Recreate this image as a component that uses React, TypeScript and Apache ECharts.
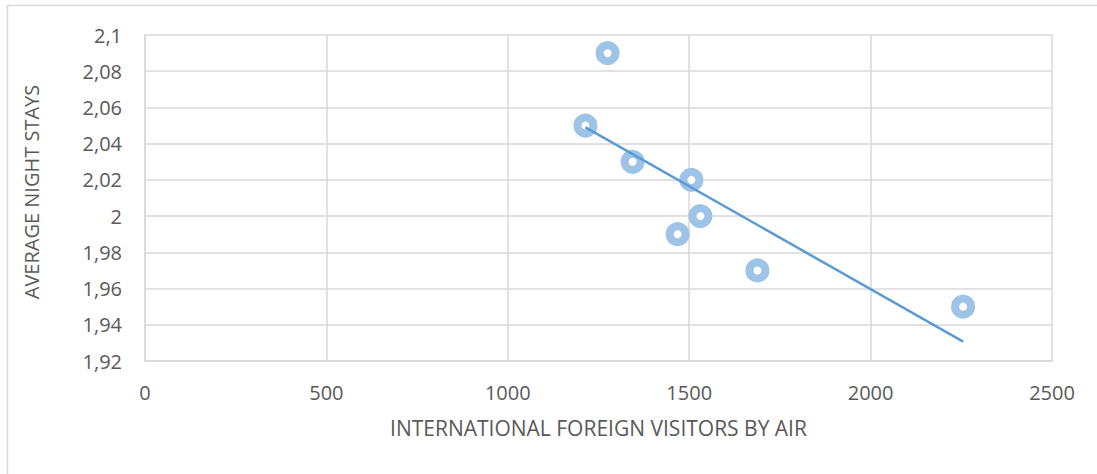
import React, { useEffect, useRef } from "react";
import * as echarts from "echarts";

const visitors = [1275, 1214, 1344, 1506, 1531, 1468, 1688, 2255];
const nightStays = [2.09, 2.05, 2.03, 2.02, 2.0, 1.99, 1.97, 1.95];
const xTitle = "INTERNATIONAL FOREIGN VISITORS BY AIR";
const yTitle = "AVERAGE NIGHT STAYS";

function regression(xs: number[], ys: number[]) {
  const n = xs.length;
  const mx = xs.reduce((a, b) => a + b, 0) / n;
  const my = ys.reduce((a, b) => a + b, 0) / n;
  let sxy = 0, sxx = 0;
  for (let i = 0; i < n; i++) {
    sxy += (xs[i] - mx) * (ys[i] - my);
    sxx += (xs[i] - mx) * (xs[i] - mx);
  }
  const slope = sxy / sxx;
  return (x: number) => my + slope * (x - mx);
}

export default function App() {
  const ref = useRef<HTMLDivElement>(null);
  useEffect(() => {
    document.body.style.margin = "0";
    const chart = echarts.init(ref.current!, null, { renderer: "svg" });
    const f = regression(visitors, nightStays);
    const xmin = Math.min(...visitors);
    const xmax = Math.max(...visitors);
    const font = "'Open Sans', sans-serif";
    const textColor = "#595959";
    const grid = "#d9d9d9";
    const fs = 20;
    chart.setOption({
      animation: false,
      backgroundColor: "#fff",
      graphic: [
        {
          type: "rect",
          shape: { x: 7.5, y: 5.5, width: 1100, height: 480 },
          style: { fill: "none", stroke: grid, lineWidth: 1.5 },
          silent: true,
        },
      ],
      grid: { left: 145, right: 45, top: 35, bottom: 113 },
      xAxis: {
        type: "value",
        min: 0,
        max: 2500,
        interval: 500,
        name: xTitle,
        nameLocation: "middle",
        nameGap: 56,
        nameTextStyle: { color: textColor, fontFamily: font, fontSize: 21 },
        axisLine: { show: true, lineStyle: { color: grid, width: 1.5 } },
        axisTick: { show: false },
        axisLabel: {
          color: textColor,
          fontFamily: font,
          fontSize: fs,
          margin: 21,
          formatter: (v: number) => String(v),
        },
        splitLine: { show: true, lineStyle: { color: grid, width: 1.5 } },
      },
      yAxis: {
        type: "value",
        min: 1.92,
        max: 2.1,
        interval: 0.02,
        name: yTitle,
        nameLocation: "middle",
        nameGap: 104,
        nameRotate: 90,
        nameTextStyle: { color: textColor, fontFamily: font, fontSize: fs, padding: [0, 0, 0, 12] },
        axisLine: { show: true, lineStyle: { color: grid, width: 1.5 } },
        axisTick: { show: false },
        axisLabel: {
          color: textColor,
          fontFamily: font,
          fontSize: fs,
          margin: 23,
          formatter: (v: number) => String(+v.toFixed(2)).replace(".", ","),
        },
        splitLine: { show: true, lineStyle: { color: grid, width: 1.5 } },
      },
      series: [
        {
          type: "scatter",
          data: visitors.map((x, i) => [x, nightStays[i]]),
          symbol: "circle",
          symbolSize: 16,
          itemStyle: { color: "#ffffff", borderColor: "#9DC3E6", borderWidth: 8, opacity: 1 },
          z: 2,
        },
        {
          type: "line",
          data: [
            [xmin, f(xmin)],
            [xmax, f(xmax)],
          ],
          symbol: "none",
          lineStyle: { color: "#5B9BD5", width: 2.5 },
          z: 3,
        },
      ],
    });
    return () => chart.dispose();
  }, []);
  return <div ref={ref} style={{ width: 1097, height: 474 }} />;
}
